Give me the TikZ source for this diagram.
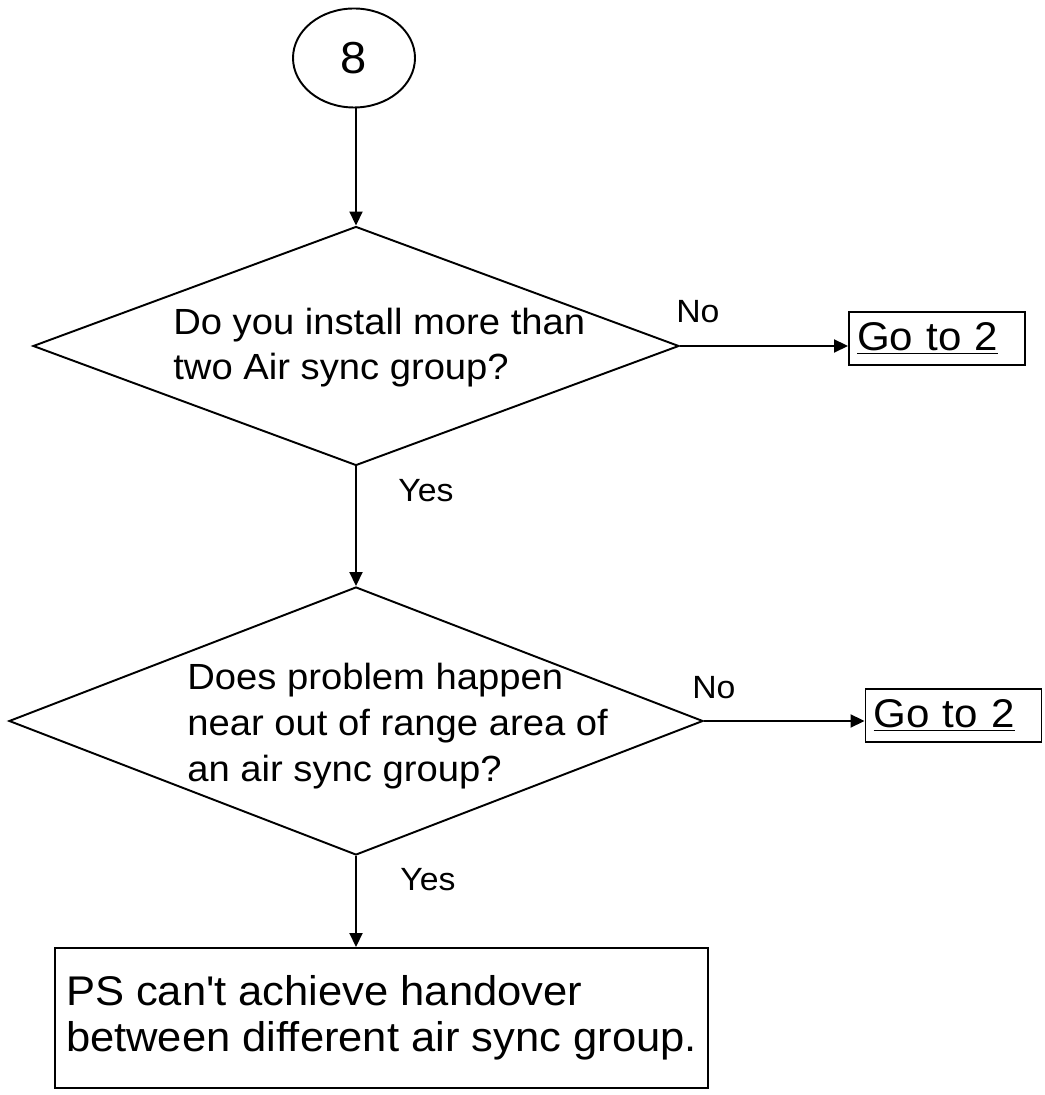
\documentclass[tikz,border=0pt]{standalone}
\usepackage{fontspec}
\setmainfont[FakeStretch=1.05]{Liberation Sans}
\usetikzlibrary{shapes.geometric,arrows.meta}

\begin{document}
\begin{tikzpicture}
  \tikzstyle{start} = [ellipse, draw, line width = 1.1pt, minimum width = 24.4mm, minimum height = 19.8mm, inner sep = 0, font = \fontsize{25.5}{28}\selectfont]
  \tikzstyle{question} = [diamond, draw, line width = 1.1pt, inner sep = 0]
  \tikzstyle{question_text} = [anchor = west, align = left, inner sep = 0]
  \tikzstyle{goto} = [rectangle, draw, line width = 1.1pt, minimum width = 35.2mm, minimum height = 10.6mm, inner xsep = 1.6mm, text width = 32mm, align = left, font = \fontsize{22.8}{25}\selectfont]
  \tikzstyle{answer} = [anchor = base west, inner sep = 0, font = \fontsize{18.3}{21}\selectfont]
  \tikzstyle{result} = [rectangle, draw, line width = 1.1pt, minimum width = 130.6mm, minimum height = 28mm, align = left, font = \fontsize{23.6}{26}\selectfont]
  \tikzstyle{arrow} = [-{Triangle[length = 2.8mm, width = 2.6mm]}, line width = 1.1pt]

  \useasboundingbox (0,0) rectangle (20.9,21.9);

  \node [start] at (7.08, 20.74) (start) {8};
  \node [question, minimum width = 129.2mm, minimum height = 47.8mm] at (7.12, 14.98) (q_install) {};
  \node [question_text, font = \fontsize{20.7}{25.5}\selectfont] at (3.46, 14.94) (q_install_text) {Do you install more than\\two Air sync group?};
  \node [goto] at (18.74, 15.13) (go_first) {\underline{Go to 2}};
  \node [answer] at (13.52, 15.44) (no_first) {No};
  \node [answer] at (7.96, 11.86) (yes_first) {Yes};

  \node [question, minimum width = 138.8mm, minimum height = 53.6mm] at (7.12, 7.48) (q_range) {};
  \node [question_text, font = \fontsize{20.7}{26}\selectfont] at (3.74, 7.38) (q_range_text) {Does problem happen\\near out of range area of\\an air sync group?};
  \node [goto] at (19.07, 7.59) (go_second) {\underline{Go to 2}};
  \node [answer] at (13.84, 7.92) (no_second) {No};
  \node [answer] at (8.0, 4.08) (yes_second) {Yes};

  \node [result] at (7.63, 1.54) (handover) {PS can\textquotesingle t achieve handover\\between different air sync group.};

  \draw[arrow] (start.south -| q_install.north) to (q_install.north);
  \draw[arrow] (q_install.east) to (q_install.east -| go_first.west);
  \draw[arrow] (q_install.south) to (q_range.north);
  \draw[arrow] (q_range.east) to (q_range.east -| go_second.west);
  \draw[arrow] (q_range.south) to (q_range.south |- handover.north);
\end{tikzpicture}
\end{document}
